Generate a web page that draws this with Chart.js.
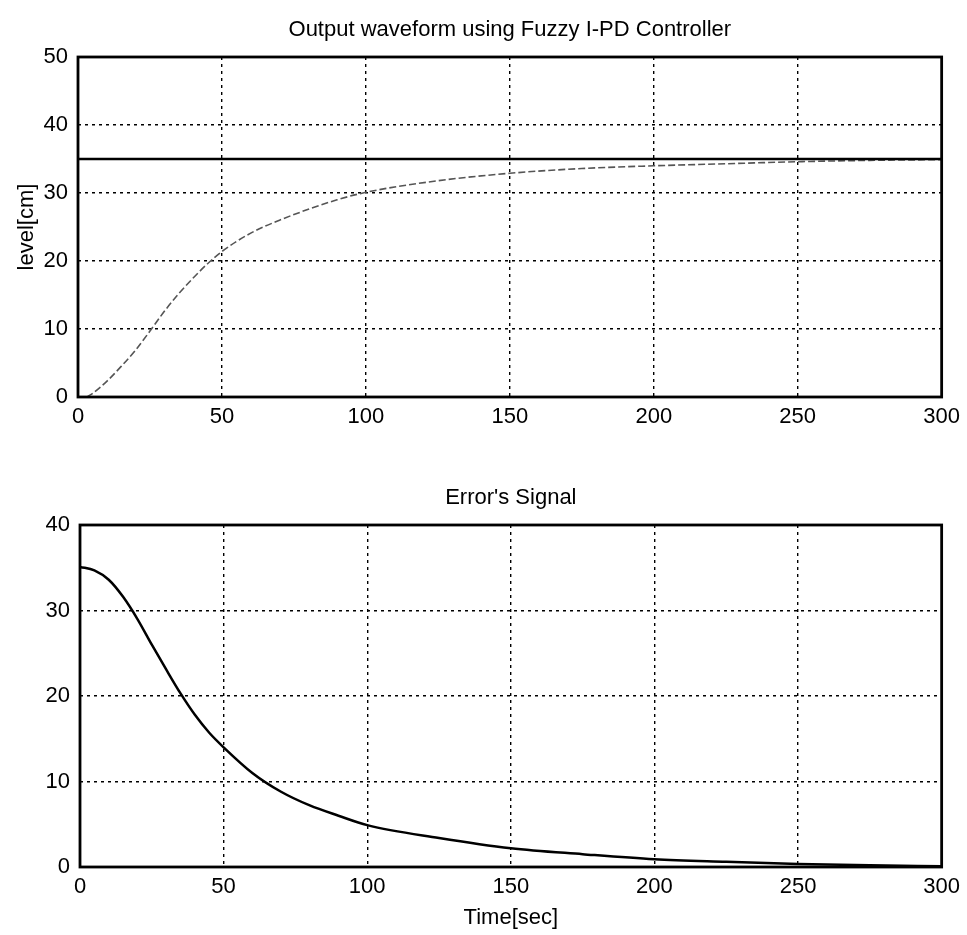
<!DOCTYPE html>
<html>
<head>
<meta charset="utf-8">
<script src="https://cdn.jsdelivr.net/npm/chart.js@4"></script>
<style>
  html, body { margin: 0; padding: 0; background: #fff; }
  #wrap { position: relative; width: 967px; height: 935px; overflow: hidden; }
  canvas { position: absolute; left: 0; }
  #c1 { top: 0; }
  #c2 { top: 460px; }
</style>
</head>
<body>
<div id="wrap">
  <canvas id="c1" width="967" height="445"></canvas>
  <canvas id="c2" width="967" height="475"></canvas>
</div>
<script>
// ---- data ----
const xTicks = [0, 50, 100, 150, 200, 250, 300];
const levelTicks = [0, 10, 20, 30, 40, 50];
const errorTicks = [0, 10, 20, 30, 40];

const outTime  = [3, 5, 10, 15, 20, 25, 30, 35, 40, 45, 50, 60, 70, 80, 90, 100, 125, 150, 175, 200, 225, 250, 275, 300];
const outLevel = [0, 0.5, 2.3, 4.5, 6.9, 9.7, 12.6, 15.2, 17.5, 19.6, 21.4, 24.1, 26.0, 27.6, 29.0, 30.1, 31.8, 32.9, 33.6, 34.0, 34.3, 34.6, 34.8, 34.9];

const refTime  = [0, 300];
const refLevel = [35, 35];

const errTime  = [0, 5, 10, 15, 20, 25, 30, 35, 40, 45, 50, 60, 70, 80, 90, 100, 125, 150, 175, 200, 225, 250, 275, 300];
const errValue = [35.1, 34.7, 33.6, 31.6, 29.0, 26.0, 23.1, 20.3, 17.8, 15.7, 14.0, 11.0, 8.8, 7.2, 6.0, 4.9, 3.4, 2.2, 1.5, 0.9, 0.6, 0.35, 0.2, 0.1];

const title1 = 'Output waveform using Fuzzy I-PD Controller';
const title2 = "Error's Signal";
const yLabel1 = 'level[cm]';
const xLabel2 = 'Time[sec]';

// ---- helpers ----
const FONT = 'Liberation Sans, Arial, Helvetica, sans-serif';
const pts = (xs, ys) => xs.map((x, i) => ({ x: x, y: ys[i] }));

const boxPlugin = {
  id: 'box',
  afterDraw(chart) {
    const a = chart.chartArea, ctx = chart.ctx;
    ctx.save();
    ctx.setLineDash([]);
    ctx.lineWidth = 2.8;
    ctx.strokeStyle = '#000';
    ctx.strokeRect(a.left, a.top, a.right - a.left, a.bottom - a.top);
    ctx.restore();
  }
};

function makeOptions(cfg) {
  return {
    responsive: false,
    animation: false,
    layout: { padding: { left: 0, right: cfg.padRight, top: 0, bottom: 0 } },
    plugins: {
      legend: { display: false },
      tooltip: { enabled: false },
      title: {
        display: true,
        fullSize: false,
        text: cfg.title,
        color: '#000',
        font: { family: FONT, size: 22, weight: 'normal', lineHeight: 1.2 },
        padding: { top: cfg.titleTop, bottom: cfg.titleBottom }
      }
    },
    scales: {
      x: {
        type: 'linear',
        min: 0, max: 300,
        afterBuildTicks(s) { s.ticks = xTicks.map(v => ({ value: v })); },
        afterFit(s) { s.height = cfg.xHeight; },
        ticks: { color: '#000', padding: 7, font: { family: FONT, size: 22 }, maxRotation: 0, autoSkip: false },
        grid: { color: '#000', lineWidth: 1.4, drawTicks: false },
        border: { display: false, dash: [3, 4] },
        title: cfg.xTitle ? {
          display: true, text: cfg.xTitle, color: '#000',
          font: { family: FONT, size: 22, lineHeight: 1.2 },
          padding: { top: 0, bottom: cfg.xTitlePad }
        } : { display: false }
      },
      y: {
        type: 'linear',
        min: 0, max: cfg.yMax,
        afterBuildTicks(s) { s.ticks = cfg.yTicks.map(v => ({ value: v })); },
        afterFit(s) { s.width = cfg.yWidth; },
        ticks: { color: '#000', padding: 10, font: { family: FONT, size: 22 }, autoSkip: false },
        grid: { color: '#000', lineWidth: 1.4, drawTicks: false },
        border: { display: false, dash: [3, 4] },
        title: cfg.yTitle ? {
          display: true, text: cfg.yTitle, color: '#000',
          font: { family: FONT, size: 22, lineHeight: 1.2 },
          padding: { top: 14, bottom: 0 }
        } : { display: false }
      }
    }
  };
}

// ---- top chart ----
new Chart(document.getElementById('c1'), {
  type: 'line',
  data: {
    datasets: [
      {
        data: pts(refTime, refLevel),
        borderColor: '#000', borderWidth: 2.5, pointRadius: 0, tension: 0
      },
      {
        data: pts(outTime, outLevel),
        borderColor: '#555', borderWidth: 1.6, borderDash: [7, 3],
        pointRadius: 0, cubicInterpolationMode: 'monotone'
      }
    ]
  },
  options: makeOptions({
    title: title1, titleTop: 17, titleBottom: 13.6,
    padRight: 24, yWidth: 78, xHeight: 48,
    yMax: 50, yTicks: levelTicks, yTitle: yLabel1
  }),
  plugins: [boxPlugin]
});

// ---- bottom chart ----
new Chart(document.getElementById('c2'), {
  type: 'line',
  data: {
    datasets: [
      {
        data: pts(errTime, errValue),
        borderColor: '#000', borderWidth: 2.5, pointRadius: 0,
        cubicInterpolationMode: 'monotone'
      }
    ]
  },
  options: makeOptions({
    title: title2, titleTop: 24.8, titleBottom: 13.8,
    padRight: 20, yWidth: 80, xHeight: 68,
    yMax: 40, yTicks: errorTicks, xTitle: xLabel2, xTitlePad: 4
  }),
  plugins: [boxPlugin]
});
</script>
</body>
</html>
